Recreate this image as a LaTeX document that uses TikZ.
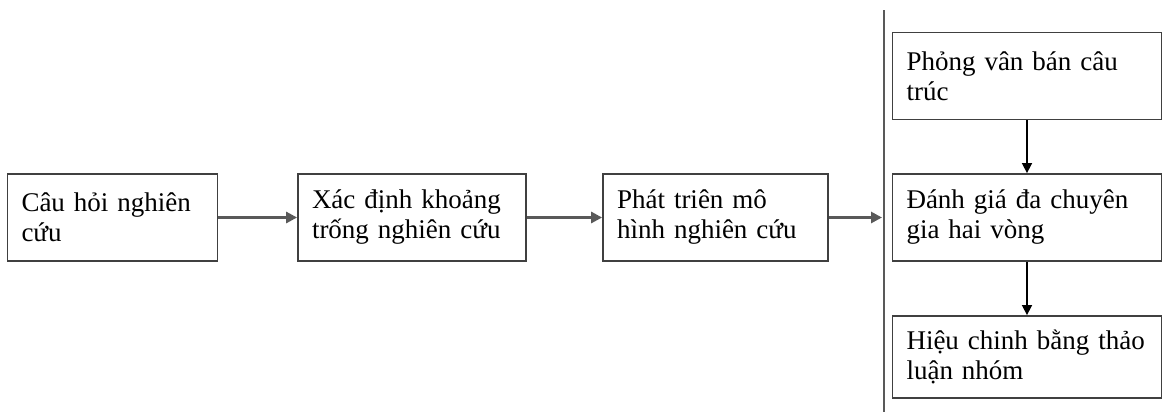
\documentclass[tikz,border=0pt]{standalone}
\usepackage{fontspec}
\setmainfont{Liberation Serif}
\usetikzlibrary{arrows.meta,positioning}

\begin{document}
\begin{tikzpicture}[x=0.5pt, y=-0.5pt,
    step box/.style={rectangle, draw=black!75, line width=0.9pt, align=left,
      inner xsep=7pt, inner ysep=0pt, minimum height=43.5pt,
      font=\fontsize{13.5}{15}\selectfont},
    flow/.style={-{Triangle[length=5.5pt, width=5.5pt]}, draw=black!65, line width=1.5pt},
    down/.style={-{Triangle[length=5pt, width=5pt]}, draw=black, line width=0.8pt}
    ]
    \useasboundingbox (0,0) rectangle (1163,412);

    % main steps
    \node[step box, text width=91pt] (q) at (112.5,217.5) {Câu hỏi nghiên\\cứu};
    \node[step box, text width=100pt] (gap) at (412,217.5) {Xác định khoảng\\trống nghiên cứu};
    \node[step box, text width=98.5pt] (model) at (715.5,217.5) {Phát triên mô\\hình nghiên cứu};

    % separator
    \coordinate (bartop) at (884,10);
    \coordinate (barbot) at (884,412);
    \draw[draw=black!65, line width=1pt] (bartop) -- (barbot);

    % validation steps
    \node[step box, text width=120.5pt] (interview) at (1027,76) {Phỏng vân bán câu\\trúc};
    \node[step box, text width=120.5pt] (delphi) at (1027,217.5) {Đánh giá đa chuyên\\gia hai vòng};
    \node[step box, text width=120.5pt, minimum height=41pt] (group) at (1027,357) {Hiệu chinh bằng thảo\\luận nhóm};

    \draw[flow] (q) -- (gap);
    \draw[flow] (gap) -- (model);
    \draw[flow, shorten >=1pt] (model.east) -- (model.east -| bartop);
    \draw[down] (interview) -- (delphi);
    \draw[down] (delphi) -- (group);
  \end{tikzpicture}
\end{document}
